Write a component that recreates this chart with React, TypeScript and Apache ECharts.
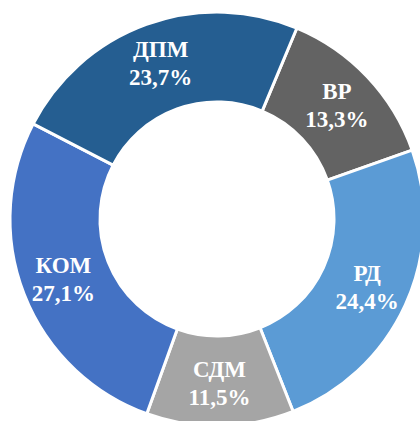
import React, { useEffect, useRef } from "react";
import * as echarts from "echarts";

const categories = ["ВР", "РД", "СДМ", "КОМ", "ДПМ"];
const values = [13.3, 24.4, 11.5, 27.1, 23.7];
const colors = ["#636363", "#5B9BD5", "#A5A5A5", "#4472C4", "#255E91"];

export default function App() {
  const ref = useRef<HTMLDivElement>(null);
  useEffect(() => {
    if (!ref.current) return;
    const chart = echarts.init(ref.current, null, { renderer: "svg" });
    chart.setOption({
      animation: false,
      backgroundColor: "#ffffff",
      series: [
        {
          type: "pie",
          center: [217, 219],
          radius: [117, 207],
          startAngle: 67.3,
          clockwise: true,
          data: categories.map((c, i) => ({
            name: c,
            value: values[i],
            itemStyle: { color: colors[i] },
          })),
          itemStyle: { borderColor: "#ffffff", borderWidth: 3 },
          label: {
            show: true,
            position: "inside",
            formatter: (p: any) => `${p.name}\n${p.value.toFixed(1).replace(".", ",")}%`,
            color: "#ffffff",
            fontFamily: "Liberation Serif, serif",
            fontWeight: "bold",
            fontSize: 23,
            lineHeight: 28,
          },
          labelLine: { show: false },
          emphasis: { disabled: true },
        },
      ],
    });
    return () => chart.dispose();
  }, []);
  return (
    <div
      ref={ref}
      style={{ position: "fixed", left: 0, top: 0, width: 420, height: 421 }}
    />
  );
}
